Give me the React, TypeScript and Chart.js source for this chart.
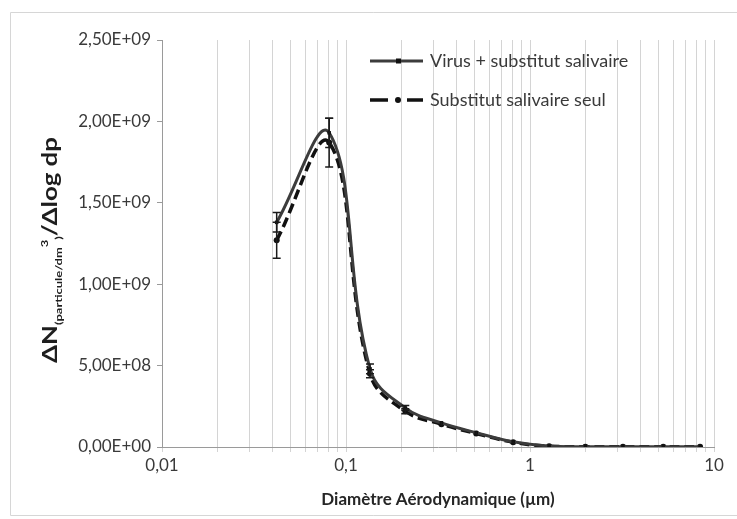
import { useEffect, useRef } from "react";
import { Chart, registerables } from "chart.js";

Chart.register(...registerables);

// ---- data ----
const diameters = [0.042, 0.081, 0.135, 0.21, 0.33, 0.51, 0.81, 1.27, 2.0, 3.2, 5.3, 8.4];
const virusValues = [1.38e9, 1.93e9, 0.48e9, 0.24e9, 0.148e9, 0.088e9, 0.032e9, 0.006e9, 0.002e9, 0.001e9, 0.001e9, 0.001e9];
const virusErrors = [0.06e9, 0.09e9, 0.03e9, 0.015e9, 0.008e9, 0.005e9, 0.004e9, 0.002e9, 0, 0, 0, 0];
const salivaValues = [1.27e9, 1.87e9, 0.45e9, 0.22e9, 0.14e9, 0.083e9, 0.029e9, 0.005e9, 0.002e9, 0.001e9, 0.001e9, 0.001e9];
const salivaErrors = [0.11e9, 0.15e9, 0.025e9, 0.015e9, 0.008e9, 0.005e9, 0.004e9, 0.002e9, 0, 0, 0, 0];
const seriesLabels = ["Virus + substitut salivaire", "Substitut salivaire seul"];
const xTickValues = [
  0.01, 0.02, 0.03, 0.04, 0.05, 0.06, 0.07, 0.08, 0.09,
  0.1, 0.2, 0.3, 0.4, 0.5, 0.6, 0.7, 0.8, 0.9,
  1, 2, 3, 4, 5, 6, 7, 8, 9, 10,
];
const xMajorLabels: Record<string, string> = { "0.01": "0,01", "0.1": "0,1", "1": "1", "10": "10" };
const yMin = 0;
const yMax = 2.5e9;
const yStep = 5e8;
const xTitle = "Diamètre Aérodynamique (µm)";

const FONT = "Lato, 'Open Sans', sans-serif";
const TEXT = "#3a3a3a";

const fmtY = (v: number) => {
  if (v === 0) return "0,00E+00";
  const e = Math.floor(Math.log10(Math.abs(v)) + 1e-9);
  const m = v / Math.pow(10, e);
  return m.toFixed(2).replace(".", ",") + "E" + (e >= 0 ? "+" : "-") + String(Math.abs(e)).padStart(2, "0");
};

const xLabel = (v: number) => {
  for (const k of Object.keys(xMajorLabels)) {
    if (Math.abs(parseFloat(k) - v) < 1e-9 * Math.max(1, v)) return xMajorLabels[k];
  }
  return "";
};

const errorBars = {
  id: "errorBars",
  afterDatasetsDraw(chart: any) {
    const ctx = chart.ctx;
    const ys = chart.scales.y;
    const xs = chart.scales.x;
    const errs = [virusErrors, salivaErrors];
    ctx.save();
    ctx.strokeStyle = "#1a1a1a";
    ctx.lineWidth = 1.5;
    chart.data.datasets.forEach((ds: any, di: number) => {
      ds.data.forEach((p: any, i: number) => {
        const e = errs[di][i];
        if (!e) return;
        const x = xs.getPixelForValue(p.x);
        const y1 = ys.getPixelForValue(p.y + e);
        const y2 = ys.getPixelForValue(p.y - e);
        ctx.beginPath();
        ctx.moveTo(x, y1);
        ctx.lineTo(x, y2);
        if (y2 - y1 > 4) {
          ctx.moveTo(x - 4, y1);
          ctx.lineTo(x + 4, y1);
          ctx.moveTo(x - 4, y2);
          ctx.lineTo(x + 4, y2);
        }
        ctx.stroke();
      });
    });
    ctx.restore();
  },
};

const decorations = {
  id: "decorations",
  beforeDraw(chart: any) {
    const ctx = chart.ctx;
    ctx.save();
    ctx.fillStyle = "#ffffff";
    ctx.fillRect(0, 0, chart.width, chart.height);
    ctx.strokeStyle = "#d6d6d6";
    ctx.lineWidth = 1;
    ctx.beginPath();
    ctx.moveTo(10.5, 515.5);
    ctx.lineTo(10.5, 12.5);
    ctx.lineTo(chart.width, 12.5);
    ctx.moveTo(10.5, 515.5);
    ctx.lineTo(chart.width, 515.5);
    ctx.stroke();
    ctx.restore();
  },
  afterDraw(chart: any) {
    const ctx = chart.ctx;
    const area = chart.chartArea;
    ctx.save();
    // x title
    ctx.fillStyle = "#262626";
    ctx.font = `bold 17px ${FONT}`;
    ctx.textAlign = "center";
    ctx.textBaseline = "middle";
    ctx.fillText(xTitle, (area.left + area.right) / 2, 500);

    // y title with sub/superscript
    const big = `bold 20px ${FONT}`;
    const small = `bold 10px ${FONT}`;
    const pieces = [
      { t: "ΔN", f: big, dy: 0 },
      { t: "(particule/dm", f: small, dy: 5 },
      { t: "3", f: small, dy: -9 },
      { t: ")", f: small, dy: 5 },
      { t: "/Δlog dp", f: big, dy: 0 },
    ];
    let total = 0;
    const widths = pieces.map((p) => {
      ctx.font = p.f;
      const w = ctx.measureText(p.t).width;
      total += w;
      return w;
    });
    const target = 226;
    const sx = target / total;
    ctx.translate(51, 250);
    ctx.rotate(-Math.PI / 2);
    ctx.scale(sx, 1);
    ctx.fillStyle = "#1e1e1e";
    ctx.textAlign = "left";
    ctx.textBaseline = "alphabetic";
    let cx = -total / 2;
    pieces.forEach((p, i) => {
      ctx.font = p.f;
      ctx.fillText(p.t, cx, 6 + p.dy);
      cx += widths[i];
    });
    ctx.restore();

    // legend
    ctx.save();
    ctx.font = `18px ${FONT}`;
    ctx.fillStyle = TEXT;
    ctx.textAlign = "left";
    ctx.textBaseline = "middle";
    // row 1
    const r1 = 61;
    ctx.strokeStyle = "#3c3c3c";
    ctx.lineWidth = 3;
    ctx.beginPath();
    ctx.moveTo(370, r1);
    ctx.lineTo(423, r1);
    ctx.stroke();
    ctx.fillStyle = "#111";
    ctx.fillRect(396, r1 - 2.5, 5, 5);
    ctx.fillStyle = TEXT;
    ctx.fillText(seriesLabels[0], 430, r1);
    // row 2
    const r2 = 100;
    ctx.strokeStyle = "#111";
    ctx.lineWidth = 3.5;
    ctx.beginPath();
    ctx.moveTo(370, r2);
    ctx.lineTo(388, r2);
    ctx.moveTo(407, r2);
    ctx.lineTo(423, r2);
    ctx.stroke();
    ctx.fillStyle = "#111";
    ctx.beginPath();
    ctx.arc(398, r2, 3, 0, Math.PI * 2);
    ctx.fill();
    ctx.fillStyle = TEXT;
    ctx.fillText(seriesLabels[1], 430, r2);
    ctx.restore();
  },
};

export default function App() {
  const ref = useRef<HTMLCanvasElement | null>(null);
  useEffect(() => {
    if (!ref.current) return;
    const chart = new Chart(ref.current, {
      type: "line",
      data: {
        datasets: [
          {
            label: seriesLabels[0],
            data: diameters.map((d, i) => ({ x: d, y: virusValues[i] })),
            borderColor: "#3c3c3c",
            borderWidth: 3,
            pointStyle: "rect",
            pointRadius: 2.5,
            pointBackgroundColor: "#111",
            pointBorderColor: "#111",
            pointBorderWidth: 0,
            tension: 0.4,
            fill: false,
          },
          {
            label: seriesLabels[1],
            data: diameters.map((d, i) => ({ x: d, y: salivaValues[i] })),
            borderColor: "#111111",
            borderWidth: 3.5,
            borderDash: [10, 5],
            pointStyle: "circle",
            pointRadius: 3,
            pointBackgroundColor: "#111",
            pointBorderColor: "#111",
            pointBorderWidth: 0,
            tension: 0.4,
            fill: false,
          },
        ],
      },
      options: {
        responsive: false,
        devicePixelRatio: 1,
        animation: false,
        layout: { padding: { top: 40, right: 23, bottom: 0, left: 0 } },
        plugins: { legend: { display: false }, tooltip: { enabled: false } },
        scales: {
          x: {
            type: "logarithmic",
            min: 0.01,
            max: 10,
            afterBuildTicks: (s: any) => {
              s.ticks = xTickValues.map((v) => ({ value: v }));
            },
            afterFit: (s: any) => {
              s.height = 72;
            },
            ticks: {
              autoSkip: false,
              maxRotation: 0,
              padding: 3,
              color: TEXT,
              font: { family: FONT, size: 17 },
              callback: (v: any) => xLabel(Number(v)),
            },
            grid: { color: "#d4d4d4", lineWidth: 1, tickLength: 5 },
            border: { color: "#9a9a9a" },
          },
          y: {
            type: "linear",
            min: yMin,
            max: yMax,
            afterFit: (s: any) => {
              s.width = 162;
            },
            ticks: {
              stepSize: yStep,
              padding: 6,
              color: TEXT,
              font: { family: FONT, size: 17 },
              callback: (v: any) => fmtY(Number(v)),
            },
            grid: { drawOnChartArea: false, drawTicks: true, tickLength: 5, color: "#9a9a9a" },
            border: { color: "#9a9a9a" },
          },
        },
      },
      plugins: [decorations, errorBars],
    } as any);
    return () => chart.destroy();
  }, []);
  return (
    <div style={{ position: "fixed", left: 0, top: 0, width: 737, height: 519, background: "#fff" }}>
      <canvas ref={ref} width={737} height={519} style={{ display: "block", width: 737, height: 519 }} />
    </div>
  );
}
